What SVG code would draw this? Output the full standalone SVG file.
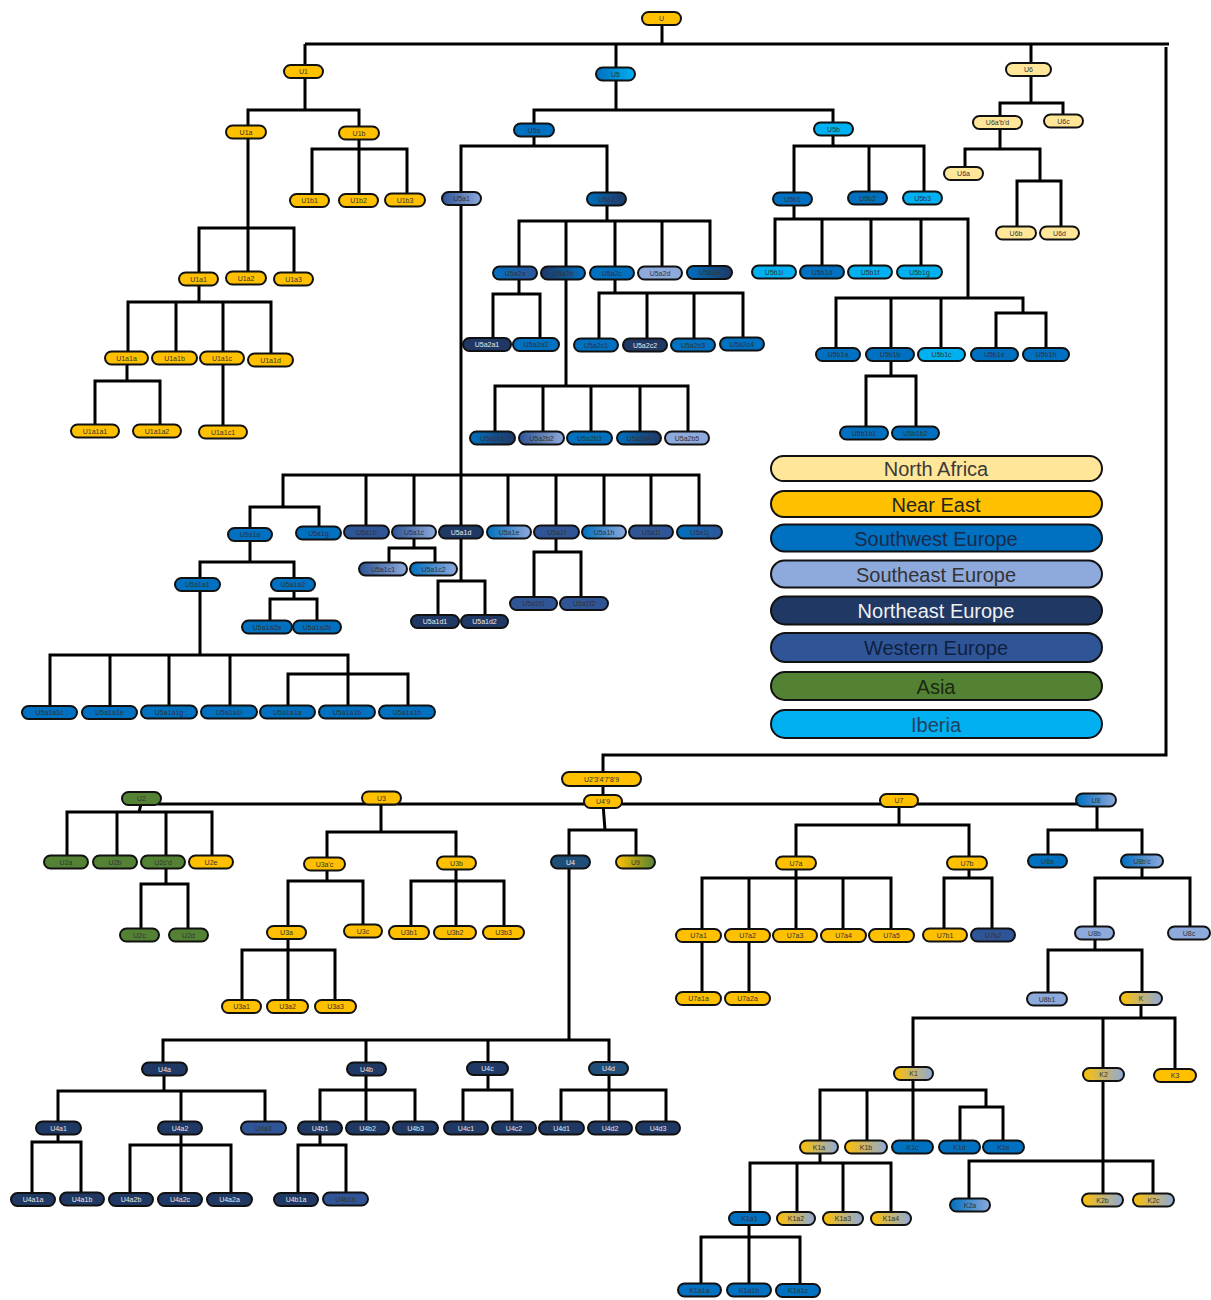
<svg xmlns="http://www.w3.org/2000/svg" width="1211" height="1300" viewBox="0 0 1211 1300">
<style>
.c path{fill:none;stroke:#000;stroke-width:3;stroke-linejoin:miter}
.n rect{stroke:#111;stroke-width:2}
.n text{font-family:'Liberation Sans',Arial,sans-serif;font-size:7px;text-anchor:middle;fill:#333}
.n.w text{fill:#e8e8e8}
.ne{fill:#FFC000}.na{fill:#FFE699}.sw{fill:#0070C0}.se{fill:#8EA9DB}.nee{fill:#203864}.we{fill:#2F5597}.as{fill:#548235}.ib{fill:#00B0F0}.u4{fill:#1F4E79}
.g1{fill:url(#gSwIb)}.g2{fill:url(#gSwSe)}.g3{fill:url(#gWeSe)}.g4{fill:url(#gSwNe)}.g5{fill:url(#gSwWe)}.g6{fill:url(#gNeSe)}.g7{fill:url(#gNeAs)}.g8{fill:url(#gNeSw)}
.lg rect{stroke:#111;stroke-width:2}
.lg text{font-family:'Liberation Sans',Arial,sans-serif;font-size:20px;text-anchor:middle}
</style>
<defs>
<linearGradient id="gSwIb"><stop offset="0" stop-color="#0070C0"/><stop offset="1" stop-color="#00B0F0"/></linearGradient>
<linearGradient id="gSwSe"><stop offset="0" stop-color="#0070C0"/><stop offset="1" stop-color="#8EA9DB"/></linearGradient>
<linearGradient id="gWeSe"><stop offset="0" stop-color="#2F5597"/><stop offset="1" stop-color="#8EA9DB"/></linearGradient>
<linearGradient id="gSwNe"><stop offset="0" stop-color="#0070C0"/><stop offset="1" stop-color="#203864"/></linearGradient>
<linearGradient id="gSwWe"><stop offset="0" stop-color="#0070C0"/><stop offset="1" stop-color="#2F5597"/></linearGradient>
<linearGradient id="gNeSe"><stop offset="0" stop-color="#FFC000"/><stop offset="1" stop-color="#8EA9DB"/></linearGradient>
<linearGradient id="gNeAs"><stop offset="0" stop-color="#FFC000"/><stop offset="1" stop-color="#548235"/></linearGradient>
<linearGradient id="gNeSw"><stop offset="0" stop-color="#203864"/><stop offset="1" stop-color="#0070C0"/></linearGradient>
</defs>
<rect width="1211" height="1300" fill="#fff"/>
<g class="c" id="connectors">
<path d="M662 18V44M305 44H1169M1166 47V755H603V779"/>
<path d="M305 44V71M305 71V110M248 132V110H359V133M248 132V278M199 279V228H294V279M359 133V200M312 200V149H407V200"/>
<path d="M199 279V302M128 358V302H271V360M176 302V358M223 302V358M127 358V381M95 431V381H160V431M223 358V432"/>
<path d="M616 44V74M616 74V110M534 130V110H833V129M534 130V146M461 198V146H607V199"/>
<path d="M607 199V221M519 273V221H710V272M566 221V273M615 221V273M662 221V273M519 273V294M493 344V294H540V344M566 273V386M495 438V386H688V438M543 386V438M591 386V438M640 386V438M615 273V293M599 345V293H743V344M647 293V345M694 293V345"/>
<path d="M833 129V146M794 199V146H924V198M869 146V198M794 199V219M775 272V219H968V298M822 219V272M871 219V272M921 219V272M836 354V298H1023V313M891 298V354M941 298V354M996 354V313H1046V354M891 354V376M866 433V376H916V433"/>
<path d="M1031 44V69M1031 69V103M1000 122V103H1063V121M1000 122V149M965 173V149H1040V181M1017 233V181H1061V233"/>
<path d="M461 198V532M283 507V475H699V532M366 475V532M414 475V532M508 475V532M556 475V532M604 475V532M651 475V532M250 534V507H319V533"/>
<path d="M414 532V548M389 569V548H435V569M461 532V581M438 621V581H485V621M556 532V552M534 603V552H581V603"/>
<path d="M250 534V562M200 584V562H294V584M294 584V599M270 627V599H317V627M200 584V655M50 712V655H348V712M110 655V712M169 655V712M230 655V712M288 712V674H408V712"/>
<path d="M603 779V801M158 804H1078"/>
<path d="M141 798V804L139 812M67 862V812H212V862M117 812V862M166 812V862M166 862V884M141 935V884H188V935"/>
<path d="M381 798V832M327 864V832H456V863M327 864V881M288 932V881H363V931M288 932V950M242 1006V950H335V1006M288 950V1006M456 863V881M411 932V881H504V932M456 881V932"/>
<path d="M603 804L605 830M569 862V830H636V862M569 862V1040M163 1069V1040H609V1069M366 1040V1069M488 1040V1069"/>
<path d="M164 1069V1091M58 1128V1091H265V1128M181 1091V1128M58 1128V1142M32 1199V1142H81V1199M181 1128V1145M130 1199V1145H231V1199M181 1145V1199"/>
<path d="M366 1069V1090M320 1128V1090H415V1128M366 1090V1128M320 1128V1145M298 1199V1145H346V1199M488 1069V1090M463 1128V1090H512V1128M609 1069V1090M561 1128V1090H666V1128M609 1090V1128"/>
<path d="M899 800V825M796 863V825H969V863M796 863V878M702 935V878H891V935M749 878V935M796 878V935M843 878V935M702 935V998M749 935V998M969 863V878M944 935V878H992V935"/>
<path d="M1097 800V830M1048 861V830H1142V861M1142 861V878M1095 933V878H1190V933M1095 933V950M1048 999V950H1142V999"/>
<path d="M1141 999V1018M913 1073V1018H1175V1075M1103 1018V1074M913 1073V1147M820 1147V1090H986V1107M867 1090V1147M960 1147V1107H1003V1147"/>
<path d="M820 1147V1163M750 1218V1163H891V1218M797 1163V1218M843 1163V1218M749 1218V1237M701 1290V1237H800V1290M749 1237V1290"/>
<path d="M1103 1074V1200M969 1205V1161H1153V1200"/>
</g>
<g id="nodes">
<g id="U" class="n"><rect class="ne" x="642" y="12" width="39" height="13" rx="6.5"/><text x="661.5" y="21">U</text></g>
<g id="U1" class="n"><rect class="ne" x="284" y="65" width="39" height="13" rx="6.5"/><text x="303.5" y="74">U1</text></g>
<g id="U5" class="n"><rect class="g1" x="596" y="67.5" width="39" height="13" rx="6.5"/><text x="615.5" y="76.5">U5</text></g>
<g id="U6" class="n"><rect class="na" x="1006" y="63" width="45" height="13" rx="6.5"/><text x="1028.5" y="72">U6</text></g>
<g id="U1a" class="n"><rect class="ne" x="226" y="125.5" width="40" height="13" rx="6.5"/><text x="246" y="134.5">U1a</text></g>
<g id="U1b" class="n"><rect class="ne" x="339" y="126.5" width="40" height="13" rx="6.5"/><text x="359" y="135.5">U1b</text></g>
<g id="U1b1" class="n"><rect class="ne" x="290" y="194" width="39" height="13" rx="6.5"/><text x="309.5" y="203">U1b1</text></g>
<g id="U1b2" class="n"><rect class="ne" x="339" y="194" width="39" height="13" rx="6.5"/><text x="358.5" y="203">U1b2</text></g>
<g id="U1b3" class="n"><rect class="ne" x="385" y="193.5" width="40" height="13" rx="6.5"/><text x="405" y="202.5">U1b3</text></g>
<g id="U1a1" class="n"><rect class="ne" x="179" y="272.5" width="39" height="13" rx="6.5"/><text x="198.5" y="281.5">U1a1</text></g>
<g id="U1a2" class="n"><rect class="ne" x="226" y="271.5" width="40" height="13" rx="6.5"/><text x="246" y="280.5">U1a2</text></g>
<g id="U1a3" class="n"><rect class="ne" x="274" y="272.5" width="39" height="13" rx="6.5"/><text x="293.5" y="281.5">U1a3</text></g>
<g id="U1a1a" class="n"><rect class="ne" x="105" y="351.5" width="43" height="13" rx="6.5"/><text x="126.5" y="360.5">U1a1a</text></g>
<g id="U1a1b" class="n"><rect class="ne" x="152" y="351.5" width="45" height="13" rx="6.5"/><text x="174.5" y="360.5">U1a1b</text></g>
<g id="U1a1c" class="n"><rect class="ne" x="200" y="351.5" width="44" height="13" rx="6.5"/><text x="222" y="360.5">U1a1c</text></g>
<g id="U1a1d" class="n"><rect class="ne" x="248" y="353.5" width="45" height="13" rx="6.5"/><text x="270.5" y="362.5">U1a1d</text></g>
<g id="U1a1a1" class="n"><rect class="ne" x="71" y="424.5" width="48" height="13" rx="6.5"/><text x="95" y="433.5">U1a1a1</text></g>
<g id="U1a1a2" class="n"><rect class="ne" x="133" y="424.5" width="48" height="13" rx="6.5"/><text x="157" y="433.5">U1a1a2</text></g>
<g id="U1a1c1" class="n"><rect class="ne" x="199" y="425.5" width="48" height="13" rx="6.5"/><text x="223" y="434.5">U1a1c1</text></g>
<g id="U5a" class="n"><rect class="sw" x="514" y="123.5" width="40" height="13" rx="6.5"/><text x="534" y="132.5">U5a</text></g>
<g id="U5b" class="n"><rect class="ib" x="814" y="122.5" width="39" height="13" rx="6.5"/><text x="833.5" y="131.5">U5b</text></g>
<g id="U5a1" class="n"><rect class="g3" x="442" y="192" width="39" height="13" rx="6.5"/><text x="461.5" y="201">U5a1</text></g>
<g id="U5a2" class="n"><rect class="g4" x="587" y="192.5" width="39" height="13" rx="6.5"/><text x="606.5" y="201.5">U5a2</text></g>
<g id="U5a2a" class="n"><rect class="g5" x="493" y="266.5" width="44" height="13" rx="6.5"/><text x="515" y="275.5">U5a2a</text></g>
<g id="U5a2b" class="n"><rect class="g8" x="541" y="266.5" width="44" height="13" rx="6.5"/><text x="563" y="275.5">U5a2b</text></g>
<g id="U5a2c" class="n"><rect class="sw" x="590" y="266.5" width="44" height="13" rx="6.5"/><text x="612" y="275.5">U5a2c</text></g>
<g id="U5a2d" class="n"><rect class="se" x="638" y="266.5" width="44" height="13" rx="6.5"/><text x="660" y="275.5">U5a2d</text></g>
<g id="U5a2e" class="n"><rect class="g4" x="687" y="266" width="45" height="13" rx="6.5"/><text x="709.5" y="275">U5a2e</text></g>
<g id="U5a2a1" class="n w"><rect class="nee" x="463" y="338" width="48" height="13" rx="6.5"/><text x="487" y="347">U5a2a1</text></g>
<g id="U5a2a2" class="n"><rect class="sw" x="513" y="338" width="46" height="13" rx="6.5"/><text x="536" y="347">U5a2a2</text></g>
<g id="U5a2b1" class="n"><rect class="g4" x="470" y="431.5" width="45" height="13" rx="6.5"/><text x="492.5" y="440.5">U5a2b1</text></g>
<g id="U5a2b2" class="n"><rect class="g3" x="519" y="431.5" width="45" height="13" rx="6.5"/><text x="541.5" y="440.5">U5a2b2</text></g>
<g id="U5a2b3" class="n"><rect class="sw" x="567" y="431.5" width="45" height="13" rx="6.5"/><text x="589.5" y="440.5">U5a2b3</text></g>
<g id="U5a2b4" class="n"><rect class="g4" x="617" y="431.5" width="44" height="13" rx="6.5"/><text x="639" y="440.5">U5a2b4</text></g>
<g id="U5a2b5" class="n"><rect class="se" x="665" y="431.5" width="44" height="13" rx="6.5"/><text x="687" y="440.5">U5a2b5</text></g>
<g id="U5a2c1" class="n"><rect class="sw" x="574" y="338.5" width="44" height="13" rx="6.5"/><text x="596" y="347.5">U5a2c1</text></g>
<g id="U5a2c2" class="n w"><rect class="nee" x="623" y="338.5" width="44" height="13" rx="6.5"/><text x="645" y="347.5">U5a2c2</text></g>
<g id="U5a2c3" class="n"><rect class="sw" x="671" y="338.5" width="44" height="13" rx="6.5"/><text x="693" y="347.5">U5a2c3</text></g>
<g id="U5a2c4" class="n"><rect class="sw" x="720" y="337.5" width="44" height="13" rx="6.5"/><text x="742" y="346.5">U5a2c4</text></g>
<g id="U5b1" class="n"><rect class="sw" x="773" y="192.5" width="39" height="13" rx="6.5"/><text x="792.5" y="201.5">U5b1</text></g>
<g id="U5b2" class="n"><rect class="sw" x="848" y="191.5" width="39" height="13" rx="6.5"/><text x="867.5" y="200.5">U5b2</text></g>
<g id="U5b3" class="n"><rect class="ib" x="903" y="191.5" width="39" height="13" rx="6.5"/><text x="922.5" y="200.5">U5b3</text></g>
<g id="U5b1i" class="n"><rect class="ib" x="752" y="265.5" width="44" height="13" rx="6.5"/><text x="774" y="274.5">U5b1i</text></g>
<g id="U5b1d" class="n"><rect class="sw" x="800" y="265.5" width="44" height="13" rx="6.5"/><text x="822" y="274.5">U5b1d</text></g>
<g id="U5b1f" class="n"><rect class="ib" x="848" y="265.5" width="44" height="13" rx="6.5"/><text x="870" y="274.5">U5b1f</text></g>
<g id="U5b1g" class="n"><rect class="ib" x="897" y="265.5" width="45" height="13" rx="6.5"/><text x="919.5" y="274.5">U5b1g</text></g>
<g id="U5b1a" class="n"><rect class="sw" x="816" y="348" width="44" height="13" rx="6.5"/><text x="838" y="357">U5b1a</text></g>
<g id="U5b1b" class="n"><rect class="sw" x="866" y="348" width="48" height="13" rx="6.5"/><text x="890" y="357">U5b1b</text></g>
<g id="U5b1c" class="n"><rect class="ib" x="918" y="348" width="47" height="13" rx="6.5"/><text x="941.5" y="357">U5b1c</text></g>
<g id="U5b1e" class="n"><rect class="sw" x="971" y="348" width="47" height="13" rx="6.5"/><text x="994.5" y="357">U5b1e</text></g>
<g id="U5b1h" class="n"><rect class="sw" x="1023" y="348" width="46" height="13" rx="6.5"/><text x="1046" y="357">U5b1h</text></g>
<g id="U5b1b1" class="n"><rect class="sw" x="840" y="426.5" width="48" height="13" rx="6.5"/><text x="864" y="435.5">U5b1b1</text></g>
<g id="U5b1b2" class="n"><rect class="sw" x="892" y="426.5" width="47" height="13" rx="6.5"/><text x="915.5" y="435.5">U5b1b2</text></g>
<g id="U6apbpd" class="n"><rect class="na" x="973" y="116" width="49" height="13" rx="6.5"/><text x="997.5" y="125">U6a'b'd</text></g>
<g id="U6c" class="n"><rect class="na" x="1044" y="114.5" width="39" height="13" rx="6.5"/><text x="1063.5" y="123.5">U6c</text></g>
<g id="U6a" class="n"><rect class="na" x="944" y="167" width="39" height="13" rx="6.5"/><text x="963.5" y="176">U6a</text></g>
<g id="U6b" class="n"><rect class="na" x="996" y="226.5" width="40" height="13" rx="6.5"/><text x="1016" y="235.5">U6b</text></g>
<g id="U6d" class="n"><rect class="na" x="1040" y="226.5" width="39" height="13" rx="6.5"/><text x="1059.5" y="235.5">U6d</text></g>
<g id="U5a1a" class="n"><rect class="sw" x="228" y="528" width="44" height="13" rx="6.5"/><text x="250" y="537">U5a1a</text></g>
<g id="U5a1g" class="n"><rect class="sw" x="296" y="526.5" width="45" height="13" rx="6.5"/><text x="318.5" y="535.5">U5a1g</text></g>
<g id="U5a1b" class="n"><rect class="we" x="344" y="525.5" width="45" height="13" rx="6.5"/><text x="366.5" y="534.5">U5a1b</text></g>
<g id="U5a1c" class="n"><rect class="g3" x="392" y="525.5" width="44" height="13" rx="6.5"/><text x="414" y="534.5">U5a1c</text></g>
<g id="U5a1d" class="n w"><rect class="nee" x="439" y="525.5" width="44" height="13" rx="6.5"/><text x="461" y="534.5">U5a1d</text></g>
<g id="U5a1e" class="n"><rect class="g2" x="487" y="525.5" width="44" height="13" rx="6.5"/><text x="509" y="534.5">U5a1e</text></g>
<g id="U5a1f" class="n"><rect class="we" x="534" y="525.5" width="45" height="13" rx="6.5"/><text x="556.5" y="534.5">U5a1f</text></g>
<g id="U5a1h" class="n"><rect class="g2" x="582" y="525.5" width="44" height="13" rx="6.5"/><text x="604" y="534.5">U5a1h</text></g>
<g id="U5a1i" class="n"><rect class="we" x="629" y="525.5" width="44" height="13" rx="6.5"/><text x="651" y="534.5">U5a1i</text></g>
<g id="U5a1j" class="n"><rect class="g5" x="677" y="525.5" width="45" height="13" rx="6.5"/><text x="699.5" y="534.5">U5a1j</text></g>
<g id="U5a1c1" class="n"><rect class="g3" x="359" y="562.5" width="48" height="13" rx="6.5"/><text x="383" y="571.5">U5a1c1</text></g>
<g id="U5a1c2" class="n"><rect class="g2" x="410" y="562.5" width="47" height="13" rx="6.5"/><text x="433.5" y="571.5">U5a1c2</text></g>
<g id="U5a1d1" class="n w"><rect class="nee" x="411" y="615" width="48" height="13" rx="6.5"/><text x="435" y="624">U5a1d1</text></g>
<g id="U5a1d2" class="n w"><rect class="nee" x="461" y="615" width="47" height="13" rx="6.5"/><text x="484.5" y="624">U5a1d2</text></g>
<g id="U5a1f1" class="n"><rect class="we" x="510" y="597" width="47" height="13" rx="6.5"/><text x="533.5" y="606">U5a1f1</text></g>
<g id="U5a1f2" class="n"><rect class="we" x="560" y="597" width="48" height="13" rx="6.5"/><text x="584" y="606">U5a1f2</text></g>
<g id="U5a1a1" class="n"><rect class="sw" x="175" y="578" width="45" height="13" rx="6.5"/><text x="197.5" y="587">U5a1a1</text></g>
<g id="U5a1a2" class="n"><rect class="sw" x="271" y="578" width="44" height="13" rx="6.5"/><text x="293" y="587">U5a1a2</text></g>
<g id="U5a1a2a" class="n"><rect class="sw" x="242" y="620.5" width="50" height="13" rx="6.5"/><text x="267" y="629.5">U5a1a2a</text></g>
<g id="U5a1a2b" class="n"><rect class="sw" x="293" y="620.5" width="48" height="13" rx="6.5"/><text x="317" y="629.5">U5a1a2b</text></g>
<g id="U5a1a1c" class="n"><rect class="sw" x="22" y="706" width="55" height="13" rx="6.5"/><text x="49.5" y="715">U5a1a1c</text></g>
<g id="U5a1a1e" class="n"><rect class="sw" x="82" y="706" width="55" height="13" rx="6.5"/><text x="109.5" y="715">U5a1a1e</text></g>
<g id="U5a1a1g" class="n"><rect class="sw" x="141" y="705.5" width="56" height="13" rx="6.5"/><text x="169" y="714.5">U5a1a1g</text></g>
<g id="U5a1a1i" class="n"><rect class="sw" x="201" y="705.5" width="56" height="13" rx="6.5"/><text x="229" y="714.5">U5a1a1i</text></g>
<g id="U5a1a1a" class="n"><rect class="sw" x="260" y="705.5" width="55" height="13" rx="6.5"/><text x="287.5" y="714.5">U5a1a1a</text></g>
<g id="U5a1a1b" class="n"><rect class="sw" x="319" y="705.5" width="56" height="13" rx="6.5"/><text x="347" y="714.5">U5a1a1b</text></g>
<g id="U5a1a1h" class="n"><rect class="sw" x="379" y="705.5" width="56" height="13" rx="6.5"/><text x="407" y="714.5">U5a1a1h</text></g>
<g id="U2p3p4p7p8p9" class="n"><rect class="ne" x="562" y="772" width="79" height="14" rx="7"/><text x="601.5" y="782">U2'3'4'7'8'9</text></g>
<g id="U4p9" class="n"><rect class="ne" x="584" y="795" width="38" height="13" rx="6.5"/><text x="603" y="804">U4'9</text></g>
<g id="U2" class="n"><rect class="as" x="122" y="792" width="39" height="13" rx="6.5"/><text x="141.5" y="801">U2</text></g>
<g id="U2a" class="n"><rect class="as" x="44" y="855.5" width="44" height="13" rx="6.5"/><text x="66" y="864.5">U2a</text></g>
<g id="U2b" class="n"><rect class="as" x="93" y="855.5" width="44" height="13" rx="6.5"/><text x="115" y="864.5">U2b</text></g>
<g id="U2cpd" class="n"><rect class="as" x="141" y="855.5" width="44" height="13" rx="6.5"/><text x="163" y="864.5">U2c'd</text></g>
<g id="U2e" class="n"><rect class="ne" x="189" y="855.5" width="44" height="13" rx="6.5"/><text x="211" y="864.5">U2e</text></g>
<g id="U2c" class="n"><rect class="as" x="120" y="928.5" width="39" height="13" rx="6.5"/><text x="139.5" y="937.5">U2c</text></g>
<g id="U2d" class="n"><rect class="as" x="169" y="928.5" width="39" height="13" rx="6.5"/><text x="188.5" y="937.5">U2d</text></g>
<g id="U3" class="n"><rect class="ne" x="362" y="791.5" width="39" height="13" rx="6.5"/><text x="381.5" y="800.5">U3</text></g>
<g id="U3apc" class="n"><rect class="ne" x="304" y="857.5" width="41" height="13" rx="6.5"/><text x="324.5" y="866.5">U3a'c</text></g>
<g id="U3b" class="n"><rect class="ne" x="437" y="856.5" width="39" height="13" rx="6.5"/><text x="456.5" y="865.5">U3b</text></g>
<g id="U3a" class="n"><rect class="ne" x="267" y="926" width="39" height="13" rx="6.5"/><text x="286.5" y="935">U3a</text></g>
<g id="U3c" class="n"><rect class="ne" x="344" y="924.5" width="38" height="13" rx="6.5"/><text x="363" y="933.5">U3c</text></g>
<g id="U3a1" class="n"><rect class="ne" x="222" y="1000" width="39" height="13" rx="6.5"/><text x="241.5" y="1009">U3a1</text></g>
<g id="U3a2" class="n"><rect class="ne" x="267" y="1000" width="41" height="13" rx="6.5"/><text x="287.5" y="1009">U3a2</text></g>
<g id="U3a3" class="n"><rect class="ne" x="315" y="1000" width="41" height="13" rx="6.5"/><text x="335.5" y="1009">U3a3</text></g>
<g id="U3b1" class="n"><rect class="ne" x="389" y="926" width="40" height="13" rx="6.5"/><text x="409" y="935">U3b1</text></g>
<g id="U3b2" class="n"><rect class="ne" x="434" y="926" width="42" height="13" rx="6.5"/><text x="455" y="935">U3b2</text></g>
<g id="U3b3" class="n"><rect class="ne" x="483" y="926" width="41" height="13" rx="6.5"/><text x="503.5" y="935">U3b3</text></g>
<g id="U4" class="n w"><rect class="u4" x="551" y="855.5" width="39" height="13" rx="6.5"/><text x="570.5" y="864.5">U4</text></g>
<g id="U9" class="n"><rect class="g7" x="616" y="855.5" width="39" height="13" rx="6.5"/><text x="635.5" y="864.5">U9</text></g>
<g id="U7" class="n"><rect class="ne" x="880" y="794" width="38" height="13" rx="6.5"/><text x="899" y="803">U7</text></g>
<g id="U7a" class="n"><rect class="ne" x="776" y="856.5" width="40" height="13" rx="6.5"/><text x="796" y="865.5">U7a</text></g>
<g id="U7b" class="n"><rect class="ne" x="947" y="856.5" width="40" height="13" rx="6.5"/><text x="967" y="865.5">U7b</text></g>
<g id="U7a1" class="n"><rect class="ne" x="676" y="929" width="45" height="13" rx="6.5"/><text x="698.5" y="938">U7a1</text></g>
<g id="U7a2" class="n"><rect class="ne" x="725" y="929" width="45" height="13" rx="6.5"/><text x="747.5" y="938">U7a2</text></g>
<g id="U7a3" class="n"><rect class="ne" x="773" y="929" width="44" height="13" rx="6.5"/><text x="795" y="938">U7a3</text></g>
<g id="U7a4" class="n"><rect class="ne" x="821" y="929" width="45" height="13" rx="6.5"/><text x="843.5" y="938">U7a4</text></g>
<g id="U7a5" class="n"><rect class="ne" x="869" y="929" width="45" height="13" rx="6.5"/><text x="891.5" y="938">U7a5</text></g>
<g id="U7a1a" class="n"><rect class="ne" x="676" y="992" width="45" height="13" rx="6.5"/><text x="698.5" y="1001">U7a1a</text></g>
<g id="U7a2a" class="n"><rect class="ne" x="725" y="992" width="45" height="13" rx="6.5"/><text x="747.5" y="1001">U7a2a</text></g>
<g id="U7b1" class="n"><rect class="ne" x="923" y="928.5" width="44" height="13" rx="6.5"/><text x="945" y="937.5">U7b1</text></g>
<g id="U7b2" class="n"><rect class="we" x="971" y="928.5" width="44" height="13" rx="6.5"/><text x="993" y="937.5">U7b2</text></g>
<g id="U8" class="n"><rect class="g2" x="1076" y="793.5" width="40" height="13" rx="6.5"/><text x="1096" y="802.5">U8</text></g>
<g id="U8a" class="n"><rect class="sw" x="1028" y="854.5" width="39" height="13" rx="6.5"/><text x="1047.5" y="863.5">U8a</text></g>
<g id="U8bpc" class="n"><rect class="g2" x="1121" y="854.5" width="42" height="13" rx="6.5"/><text x="1142" y="863.5">U8b'c</text></g>
<g id="U8b" class="n"><rect class="se" x="1075" y="926.5" width="39" height="13" rx="6.5"/><text x="1094.5" y="935.5">U8b</text></g>
<g id="U8c" class="n"><rect class="se" x="1168" y="926.5" width="42" height="13" rx="6.5"/><text x="1189" y="935.5">U8c</text></g>
<g id="U8b1" class="n"><rect class="se" x="1027" y="992.5" width="40" height="13" rx="6.5"/><text x="1047" y="1001.5">U8b1</text></g>
<g id="K" class="n"><rect class="g6" x="1120" y="992" width="42" height="13" rx="6.5"/><text x="1141" y="1001">K</text></g>
<g id="K1" class="n"><rect class="g6" x="894" y="1067" width="39" height="13" rx="6.5"/><text x="913.5" y="1076">K1</text></g>
<g id="K2" class="n"><rect class="g6" x="1083" y="1068" width="41" height="13" rx="6.5"/><text x="1103.5" y="1077">K2</text></g>
<g id="K3" class="n"><rect class="ne" x="1154" y="1069" width="42" height="13" rx="6.5"/><text x="1175" y="1078">K3</text></g>
<g id="K1a" class="n"><rect class="g6" x="800" y="1140.5" width="38" height="13" rx="6.5"/><text x="819" y="1149.5">K1a</text></g>
<g id="K1b" class="n"><rect class="g6" x="845" y="1140.5" width="42" height="13" rx="6.5"/><text x="866" y="1149.5">K1b</text></g>
<g id="K1c" class="n"><rect class="sw" x="892" y="1140.5" width="41" height="13" rx="6.5"/><text x="912.5" y="1149.5">K1c</text></g>
<g id="K1d" class="n"><rect class="sw" x="939" y="1140.5" width="41" height="13" rx="6.5"/><text x="959.5" y="1149.5">K1d</text></g>
<g id="K1e" class="n"><rect class="sw" x="983" y="1140.5" width="41" height="13" rx="6.5"/><text x="1003.5" y="1149.5">K1e</text></g>
<g id="K1a1" class="n"><rect class="sw" x="729" y="1212" width="41" height="13" rx="6.5"/><text x="749.5" y="1221">K1a1</text></g>
<g id="K1a2" class="n"><rect class="g6" x="777" y="1212" width="38" height="13" rx="6.5"/><text x="796" y="1221">K1a2</text></g>
<g id="K1a3" class="n"><rect class="g6" x="823" y="1212" width="40" height="13" rx="6.5"/><text x="843" y="1221">K1a3</text></g>
<g id="K1a4" class="n"><rect class="g6" x="871" y="1212" width="40" height="13" rx="6.5"/><text x="891" y="1221">K1a4</text></g>
<g id="K1a1a" class="n"><rect class="sw" x="678" y="1283.5" width="43" height="13" rx="6.5"/><text x="699.5" y="1292.5">K1a1a</text></g>
<g id="K1a1b" class="n"><rect class="sw" x="727" y="1283.5" width="44" height="13" rx="6.5"/><text x="749" y="1292.5">K1a1b</text></g>
<g id="K1a1c" class="n"><rect class="sw" x="776" y="1284" width="44" height="13" rx="6.5"/><text x="798" y="1293">K1a1c</text></g>
<g id="K2a" class="n"><rect class="g2" x="950" y="1198.5" width="40" height="13" rx="6.5"/><text x="970" y="1207.5">K2a</text></g>
<g id="K2b" class="n"><rect class="g6" x="1082" y="1193.5" width="41" height="13" rx="6.5"/><text x="1102.5" y="1202.5">K2b</text></g>
<g id="K2c" class="n"><rect class="g6" x="1133" y="1193.5" width="41" height="13" rx="6.5"/><text x="1153.5" y="1202.5">K2c</text></g>
<g id="U4a" class="n w"><rect class="nee" x="142" y="1062.5" width="45" height="13" rx="6.5"/><text x="164.5" y="1071.5">U4a</text></g>
<g id="U4b" class="n w"><rect class="nee" x="347" y="1062.5" width="39" height="13" rx="6.5"/><text x="366.5" y="1071.5">U4b</text></g>
<g id="U4c" class="n w"><rect class="nee" x="467" y="1062" width="41" height="13" rx="6.5"/><text x="487.5" y="1071">U4c</text></g>
<g id="U4d" class="n w"><rect class="u4" x="589" y="1062" width="39" height="13" rx="6.5"/><text x="608.5" y="1071">U4d</text></g>
<g id="U4a1" class="n w"><rect class="nee" x="36" y="1121.5" width="45" height="13" rx="6.5"/><text x="58.5" y="1130.5">U4a1</text></g>
<g id="U4a2" class="n w"><rect class="nee" x="158" y="1121.5" width="44" height="13" rx="6.5"/><text x="180" y="1130.5">U4a2</text></g>
<g id="U4a3" class="n"><rect class="we" x="241" y="1121.5" width="45" height="13" rx="6.5"/><text x="263.5" y="1130.5">U4a3</text></g>
<g id="U4a1a" class="n w"><rect class="nee" x="11" y="1193" width="44" height="13" rx="6.5"/><text x="33" y="1202">U4a1a</text></g>
<g id="U4a1b" class="n w"><rect class="nee" x="60" y="1192.5" width="44" height="13" rx="6.5"/><text x="82" y="1201.5">U4a1b</text></g>
<g id="U4a2b" class="n w"><rect class="nee" x="109" y="1193" width="44" height="13" rx="6.5"/><text x="131" y="1202">U4a2b</text></g>
<g id="U4a2c" class="n w"><rect class="nee" x="158" y="1193" width="44" height="13" rx="6.5"/><text x="180" y="1202">U4a2c</text></g>
<g id="U4a2a" class="n w"><rect class="nee" x="207" y="1193" width="45" height="13" rx="6.5"/><text x="229.5" y="1202">U4a2a</text></g>
<g id="U4b1" class="n w"><rect class="nee" x="298" y="1121.5" width="44" height="13" rx="6.5"/><text x="320" y="1130.5">U4b1</text></g>
<g id="U4b2" class="n w"><rect class="nee" x="346" y="1121.5" width="43" height="13" rx="6.5"/><text x="367.5" y="1130.5">U4b2</text></g>
<g id="U4b3" class="n w"><rect class="nee" x="393" y="1121.5" width="45" height="13" rx="6.5"/><text x="415.5" y="1130.5">U4b3</text></g>
<g id="U4b1a" class="n w"><rect class="nee" x="274" y="1193" width="44" height="13" rx="6.5"/><text x="296" y="1202">U4b1a</text></g>
<g id="U4b1b" class="n"><rect class="we" x="323" y="1192.5" width="45" height="13" rx="6.5"/><text x="345.5" y="1201.5">U4b1b</text></g>
<g id="U4c1" class="n w"><rect class="nee" x="444" y="1121.5" width="44" height="13" rx="6.5"/><text x="466" y="1130.5">U4c1</text></g>
<g id="U4c2" class="n w"><rect class="nee" x="492" y="1121.5" width="44" height="13" rx="6.5"/><text x="514" y="1130.5">U4c2</text></g>
<g id="U4d1" class="n w"><rect class="nee" x="539" y="1121.5" width="45" height="13" rx="6.5"/><text x="561.5" y="1130.5">U4d1</text></g>
<g id="U4d2" class="n w"><rect class="nee" x="588" y="1121.5" width="44" height="13" rx="6.5"/><text x="610" y="1130.5">U4d2</text></g>
<g id="U4d3" class="n w"><rect class="nee" x="636" y="1121.5" width="44" height="13" rx="6.5"/><text x="658" y="1130.5">U4d3</text></g>
</g>
<g id="legend" class="lg">
<rect class="na" x="771" y="456" width="331" height="25" rx="12.5"/><text x="936" y="476" fill="#3a3a3a">North Africa</text>
<rect class="ne" x="771" y="491" width="331" height="26" rx="13"/><text x="936" y="511.5" fill="#222">Near East</text>
<rect class="sw" x="771" y="524.5" width="331" height="27" rx="13.5"/><text x="936" y="545.5" fill="#1a2a4a">Southwest Europe</text>
<rect class="se" x="771" y="560.5" width="331" height="27" rx="13.5"/><text x="936" y="581.5" fill="#333">Southeast Europe</text>
<rect class="nee" x="771" y="596.5" width="331" height="28" rx="14"/><text x="936" y="618" fill="#f0f0f0">Northeast Europe</text>
<rect class="we" x="771" y="633" width="331" height="29" rx="14.5"/><text x="936" y="655" fill="#0f1f3f">Western Europe</text>
<rect class="as" x="771" y="672" width="331" height="28" rx="14"/><text x="936" y="693.5" fill="#1a2a10">Asia</text>
<rect class="ib" x="771" y="710" width="331" height="28" rx="14"/><text x="936" y="731.5" fill="#1f3f5f">Iberia</text>
</g>
</svg>
